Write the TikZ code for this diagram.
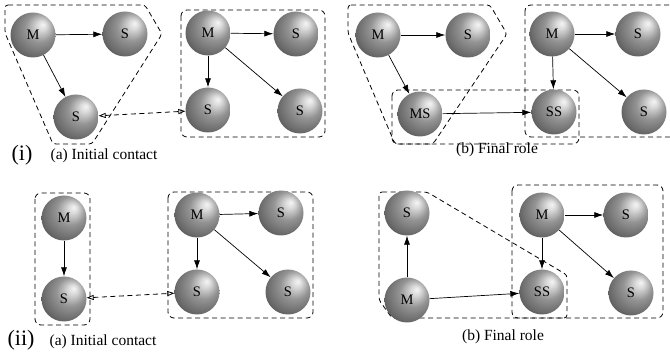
\documentclass[tikz,border=0pt]{standalone}
\usepackage{fontspec}
\setmainfont{Liberation Serif}
\usetikzlibrary{arrows.meta}

% grey ball lit from the upper right
\pgfdeclareradialshading{litball}{\pgfpoint{11bp}{12bp}}{%
  color(0bp)=(black!4);
  color(5bp)=(black!14);
  color(16bp)=(black!42);
  color(28bp)=(black!58);
  color(38bp)=(black!74);
  color(50bp)=(black!82)}

\tikzset{
  ball/.style={circle, minimum size=45pt, inner sep=0pt, shading=litball,
    font=\fontsize{14.5}{14.5}\selectfont},
  link/.style={-{Latex[length=9pt,width=6pt]}, line width=0.7pt},
  contact/.style={{Triangle[open,length=7pt,width=5pt]}-{Triangle[open,length=7pt,width=5pt]},
    dash pattern=on 5pt off 3.5pt, line width=0.8pt},
  group/.style={dash pattern=on 5pt off 3.5pt, line width=0.8pt, rounded corners=6pt},
  caption/.style={font=\fontsize{15.5}{15.5}\selectfont},
  tag/.style={font=\fontsize{22}{22}\selectfont}
}

\begin{document}
\begin{tikzpicture}[x=1pt,y=-1pt]
\useasboundingbox (0,0) rectangle (670,358);
\clip (0,0) rectangle (670,358);

% ---------- (i)(a) initial contact ----------
\draw[group, rounded corners=3pt] (5,5) -- (145,5) -- (162,34) -- (92,144) -- (53,144) -- (5,33) -- cycle;
\draw[group] (181,10) rectangle (325,137);
\node[ball] (ia1) at (33,35) {M};
\node[ball] (ia2) at (125,34) {S};
\node[ball] (ia3) at (76,117) {S};
\node[ball] (ia4) at (208,33) {M};
\node[ball] (ia5) at (296,34) {S};
\node[ball] (ia6) at (208,110) {S};
\node[ball] (ia7) at (300,111) {S};
\draw[link] (ia1) -- (ia2);
\draw[link] (ia1) -- (ia3);
\draw[link] (ia4) -- (ia5);
\draw[link] (ia4) -- (ia6);
\draw[link] (ia4) -- (ia7);
\draw[contact] (ia3) -- (ia6);
\node[tag] (tagi) at (22,155) {(i)};
\node[caption] (capia) at (104,156) {(a) Initial contact};

% ---------- (i)(b) final role ----------
\draw[group, rounded corners=3pt] (348,5) -- (490,5) -- (507,34) -- (433,144) -- (395,144) -- (348,33) -- cycle;
\draw[group] (392,90) rectangle (579,144);
\draw[group] (525,5) rectangle (676,137);
\node[ball] (ib1) at (378,35) {M};
\node[ball] (ib2) at (468,35) {S};
\node[ball] (ib3) at (420,114) {MS};
\node[ball] (ib4) at (552,34) {M};
\node[ball] (ib5) at (638,34) {S};
\node[ball] (ib6) at (554,112) {SS};
\node[ball] (ib7) at (644,112) {S};
\draw[link] (ib1) -- (ib2);
\draw[link] (ib1) -- (ib3);
\draw[link] (ib3) -- (ib6);
\draw[link] (ib4) -- (ib5);
\draw[link] (ib4) -- (ib6);
\draw[link] (ib4) -- (ib7);
\node[caption] (capib) at (497,150) {(b) Final role};

% ---------- (ii)(a) initial contact ----------
\draw[group] (35,193) rectangle (90,325);
\draw[group] (168,192) rectangle (313,318);
\node[ball] (iia1) at (64,218) {M};
\node[ball] (iia2) at (64,299) {S};
\node[ball] (iia3) at (197,215) {M};
\node[ball] (iia4) at (281,213) {S};
\node[ball] (iia5) at (197,292) {S};
\node[ball] (iia6) at (288,292) {S};
\draw[link] (iia1) -- (iia2);
\draw[link] (iia3) -- (iia4);
\draw[link] (iia3) -- (iia5);
\draw[link] (iia3) -- (iia6);
\draw[contact] (iia2) -- (iia5);
\node[tag] (tagii) at (21,340) {(ii)};
\node[caption] (capiia) at (103,342) {(a) Initial contact};

% ---------- (ii)(b) final role ----------
\draw[group, rounded corners=3pt] (379,192) -- (427,192) -- (567,275) -- (567,318) -- (392,318) -- (379,300) -- cycle;
\draw[group] (512,185) rectangle (663,318);
\node[ball] (iib1) at (407,213) {S};
\node[ball] (iib2) at (407,300) {M};
\node[ball] (iib3) at (542,215) {M};
\node[ball] (iib4) at (626,215) {S};
\node[ball] (iib5) at (542,292) {SS};
\node[ball] (iib6) at (631,293) {S};
\draw[link] (iib2) -- (iib1);
\draw[link] (iib2) -- (iib5);
\draw[link] (iib3) -- (iib4);
\draw[link] (iib3) -- (iib5);
\draw[link] (iib3) -- (iib6);
\node[caption] (capiib) at (503,337) {(b) Final role};
\end{tikzpicture}
\end{document}
